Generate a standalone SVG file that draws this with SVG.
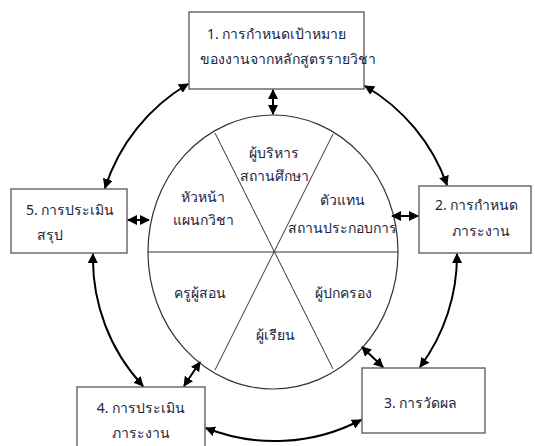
<svg xmlns="http://www.w3.org/2000/svg" width="535" height="446" viewBox="0 0 535 446">
<defs>
<marker id="ah" viewBox="0 0 10 10" refX="9" refY="5" markerWidth="10" markerHeight="10" markerUnits="userSpaceOnUse" orient="auto-start-reverse">
<path d="M0,0 L10,5 L0,10 z" fill="#000"/>
</marker>
<style>
.box{fill:#fff;stroke:#555;stroke-width:1.3}
.t{font-family:"Noto Sans","DejaVu Sans",sans-serif;font-size:14px;fill:#1c2340}
.c{text-anchor:middle}
.con{fill:none;stroke:#000;stroke-width:2;marker-start:url(#ah);marker-end:url(#ah)}
.ring{fill:#fff;stroke:#333;stroke-width:1.2}
.sec{stroke:#333;stroke-width:1}
</style>
</defs>
<rect width="535" height="446" fill="#fff"/>
<g id="wheel">
<ellipse class="ring" cx="273" cy="252" rx="125" ry="137"/>
<line class="sec" x1="148" y1="252" x2="398" y2="252"/>
<line class="sec" x1="215" y1="133" x2="333" y2="369"/>
<line class="sec" x1="333" y1="134" x2="215" y2="370"/>
<text class="t c" x="274" y="158">ผู้บริหาร</text>
<text class="t c" x="274" y="181">สถานศึกษา</text>
<text class="t c" x="203" y="202">หัวหน้า</text>
<text class="t c" x="203" y="225">แผนกวิชา</text>
<text class="t c" x="342" y="205">ตัวแทน</text>
<text class="t c" x="342" y="233">สถานประกอบการ</text>
<text class="t c" x="200" y="298">ครูผู้สอน</text>
<text class="t c" x="343" y="298">ผู้ปกครอง</text>
<text class="t c" x="275" y="340">ผู้เรียน</text>
</g>
<g id="n1">
<rect class="box" x="189" y="12" width="175" height="77"/>
<text class="t" x="207" y="39">1. การกำหนดเป้าหมาย</text>
<text class="t" x="200" y="64">ของงานจากหลักสูตรรายวิชา</text>
</g>
<g id="n2">
<rect class="box" x="419" y="186" width="112" height="67"/>
<text class="t" x="435" y="210">2. การกำหนด</text>
<text class="t" x="452" y="236">ภาระงาน</text>
</g>
<g id="n3">
<rect class="box" x="362" y="368" width="123" height="65"/>
<text class="t" x="384" y="408">3. การวัดผล</text>
</g>
<g id="n4">
<rect class="box" x="77" y="387" width="128" height="70"/>
<text class="t c" x="141" y="413">4. การประเมิน</text>
<text class="t c" x="141" y="438">ภาระงาน</text>
</g>
<g id="n5">
<rect class="box" x="11" y="189" width="116" height="64"/>
<text class="t" x="26" y="215">5. การประเมิน</text>
<text class="t" x="37" y="240">สรุป</text>
</g>
<g id="connectors">
<path class="con" d="M273,90 L273,114"/>
<path class="con" d="M128,220 L149,220"/>
<path class="con" d="M392,216 L418,216"/>
<path class="con" d="M362,347 L383,367"/>
<path class="con" d="M200,362 L184,386"/>
<path class="con" d="M188,84 A187,187 0 0 0 105,188"/>
<path class="con" d="M365,86 A187,187 0 0 1 447,185"/>
<path class="con" d="M457,254 A187,187 0 0 1 420,367"/>
<path class="con" d="M361,420 A187,187 0 0 1 206,428"/>
<path class="con" d="M143,386 A187,187 0 0 1 93,254"/>
</g>
</svg>
